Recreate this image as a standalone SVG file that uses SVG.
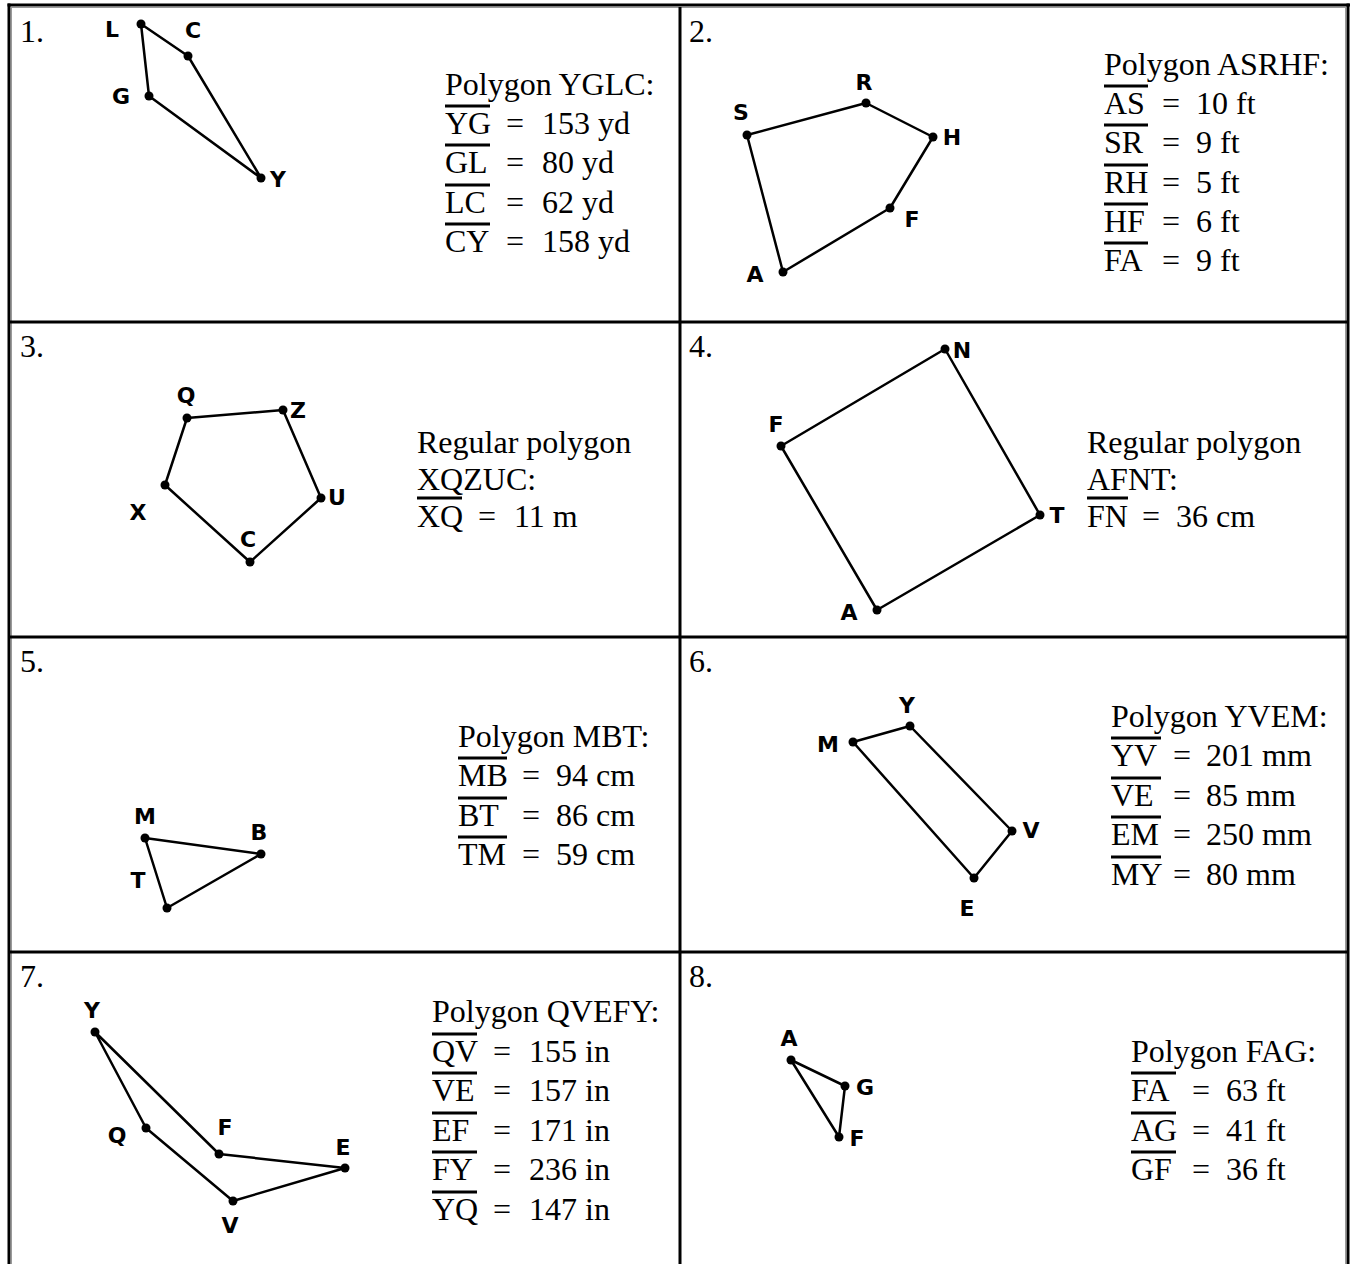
<svg xmlns="http://www.w3.org/2000/svg" width="1353" height="1264" viewBox="0 0 1353 1264">
<defs>
<style>
.t{font-family:"Liberation Serif","Times New Roman",serif;font-size:32px;fill:#000}
.v{font-family:"DejaVu Sans","Liberation Sans",sans-serif;font-weight:bold;font-size:22px;fill:#000;text-anchor:middle}
.p{fill:none;stroke:#000;stroke-width:2.5;stroke-linejoin:round}
.d{fill:#000}
.ob{stroke:#000;stroke-width:3}
.b{stroke:#000;stroke-width:3;fill:none}
.g{stroke:#9a9a9a;stroke-width:1;fill:none}
</style>
</defs>
<rect width="1353" height="1264" fill="#fff"/>
<g id="table">
<line class="b" x1="7.5" y1="5" x2="1350" y2="5"/>
<line class="b" x1="9" y1="3.5" x2="9" y2="1264"/>
<line class="b" x1="1348" y1="3.5" x2="1348" y2="1264"/>
<line class="g" x1="11" y1="7.5" x2="1345" y2="7.5"/>
<line class="g" x1="11.5" y1="7" x2="11.5" y2="1264"/>
<line class="g" x1="1345.5" y1="7" x2="1345.5" y2="1264"/>
<line class="b" x1="680" y1="7" x2="680" y2="1264"/>
<line class="b" x1="10" y1="322" x2="1347" y2="322"/>
<line class="b" x1="10" y1="637" x2="1347" y2="637"/>
<line class="b" x1="10" y1="952" x2="1347" y2="952"/>
</g>
<g id="cell1">
<text class="t" x="20" y="42">1.</text>
<polygon class="p" points="261,178 149,96 141,24 188,56"/>
<g class="d"><circle cx="261" cy="178" r="4.5"/><circle cx="149" cy="96" r="4.5"/><circle cx="141" cy="24" r="4.5"/><circle cx="188" cy="56" r="4.5"/></g>
<text class="v" x="112" y="37">L</text><text class="v" x="193" y="38">C</text><text class="v" x="121" y="104">G</text><text class="v" x="278" y="187">Y</text>
<text class="t" x="445" y="95">Polygon YGLC:</text>
<line class="ob" x1="445" y1="106" x2="490" y2="106"/><text class="t" x="445" y="134">YG</text><text class="t" x="506" y="134">=</text><text class="t" x="542" y="134">153 yd</text>
<line class="ob" x1="445" y1="145" x2="490" y2="145"/><text class="t" x="445" y="173">GL</text><text class="t" x="506" y="173">=</text><text class="t" x="542" y="173">80 yd</text>
<line class="ob" x1="445" y1="185" x2="490" y2="185"/><text class="t" x="445" y="213">LC</text><text class="t" x="506" y="213">=</text><text class="t" x="542" y="213">62 yd</text>
<line class="ob" x1="445" y1="224" x2="490" y2="224"/><text class="t" x="445" y="252">CY</text><text class="t" x="506" y="252">=</text><text class="t" x="542" y="252">158 yd</text>
</g>
<g id="cell2">
<text class="t" x="689" y="42">2.</text>
<polygon class="p" points="783,272 747,135 866,103 933,137 890,208"/>
<g class="d"><circle cx="783" cy="272" r="4.5"/><circle cx="747" cy="135" r="4.5"/><circle cx="866" cy="103" r="4.5"/><circle cx="933" cy="137" r="4.5"/><circle cx="890" cy="208" r="4.5"/></g>
<text class="v" x="741" y="120">S</text><text class="v" x="864" y="90">R</text><text class="v" x="952" y="145">H</text><text class="v" x="912" y="227">F</text><text class="v" x="755" y="282">A</text>
<text class="t" x="1104" y="75">Polygon ASRHF:</text>
<line class="ob" x1="1104" y1="86" x2="1148" y2="86"/><text class="t" x="1104" y="114">AS</text><text class="t" x="1162" y="114">=</text><text class="t" x="1196" y="114">10 ft</text>
<line class="ob" x1="1104" y1="125" x2="1148" y2="125"/><text class="t" x="1104" y="153">SR</text><text class="t" x="1162" y="153">=</text><text class="t" x="1196" y="153">9 ft</text>
<line class="ob" x1="1104" y1="165" x2="1148" y2="165"/><text class="t" x="1104" y="193">RH</text><text class="t" x="1162" y="193">=</text><text class="t" x="1196" y="193">5 ft</text>
<line class="ob" x1="1104" y1="204" x2="1148" y2="204"/><text class="t" x="1104" y="232">HF</text><text class="t" x="1162" y="232">=</text><text class="t" x="1196" y="232">6 ft</text>
<line class="ob" x1="1104" y1="243" x2="1148" y2="243"/><text class="t" x="1104" y="271">FA</text><text class="t" x="1162" y="271">=</text><text class="t" x="1196" y="271">9 ft</text>
</g>
<g id="cell3">
<text class="t" x="20" y="357">3.</text>
<polygon class="p" points="165,485 187,418 283,410 321,498 250,562"/>
<g class="d"><circle cx="165" cy="485" r="4.5"/><circle cx="187" cy="418" r="4.5"/><circle cx="283" cy="410" r="4.5"/><circle cx="321" cy="498" r="4.5"/><circle cx="250" cy="562" r="4.5"/></g>
<text class="v" x="186" y="403">Q</text><text class="v" x="298" y="418">Z</text><text class="v" x="337" y="505">U</text><text class="v" x="248" y="547">C</text><text class="v" x="138" y="520">X</text>
<text class="t" x="417" y="453">Regular polygon</text>
<text class="t" x="417" y="490">XQZUC:</text>
<line class="ob" x1="417" y1="498" x2="462" y2="498"/><text class="t" x="417" y="527">XQ</text><text class="t" x="478" y="527">=</text><text class="t" x="514" y="527">11 m</text>
</g>
<g id="cell4">
<text class="t" x="689" y="357">4.</text>
<polygon class="p" points="877,610 781,446 945,349 1040,515"/>
<g class="d"><circle cx="877" cy="610" r="4.5"/><circle cx="781" cy="446" r="4.5"/><circle cx="945" cy="349" r="4.5"/><circle cx="1040" cy="515" r="4.5"/></g>
<text class="v" x="962" y="358">N</text><text class="v" x="1057" y="523">T</text><text class="v" x="849" y="620">A</text><text class="v" x="776" y="432">F</text>
<text class="t" x="1087" y="453">Regular polygon</text>
<text class="t" x="1087" y="490">AFNT:</text>
<line class="ob" x1="1087" y1="498" x2="1128" y2="498"/><text class="t" x="1087" y="527">FN</text><text class="t" x="1142" y="527">=</text><text class="t" x="1176" y="527">36 cm</text>
</g>
<g id="cell5">
<text class="t" x="20" y="672">5.</text>
<polygon class="p" points="145,838 261,854 167,908"/>
<g class="d"><circle cx="145" cy="838" r="4.5"/><circle cx="261" cy="854" r="4.5"/><circle cx="167" cy="908" r="4.5"/></g>
<text class="v" x="145" y="824">M</text><text class="v" x="259" y="840">B</text><text class="v" x="138" y="888">T</text>
<text class="t" x="458" y="747">Polygon MBT:</text>
<line class="ob" x1="458" y1="758" x2="507" y2="758"/><text class="t" x="458" y="786">MB</text><text class="t" x="522" y="786">=</text><text class="t" x="556" y="786">94 cm</text>
<line class="ob" x1="458" y1="798" x2="507" y2="798"/><text class="t" x="458" y="826">BT</text><text class="t" x="522" y="826">=</text><text class="t" x="556" y="826">86 cm</text>
<line class="ob" x1="458" y1="837" x2="507" y2="837"/><text class="t" x="458" y="865">TM</text><text class="t" x="522" y="865">=</text><text class="t" x="556" y="865">59 cm</text>
</g>
<g id="cell6">
<text class="t" x="689" y="672">6.</text>
<polygon class="p" points="910,726 1012,831 974,878 853,742"/>
<g class="d"><circle cx="910" cy="726" r="4.5"/><circle cx="1012" cy="831" r="4.5"/><circle cx="974" cy="878" r="4.5"/><circle cx="853" cy="742" r="4.5"/></g>
<text class="v" x="907" y="713">Y</text><text class="v" x="1031" y="838">V</text><text class="v" x="967" y="916">E</text><text class="v" x="828" y="752">M</text>
<text class="t" x="1111" y="727">Polygon YVEM:</text>
<line class="ob" x1="1111" y1="738" x2="1161" y2="738"/><text class="t" x="1111" y="766">YV</text><text class="t" x="1173" y="766">=</text><text class="t" x="1206" y="766">201 mm</text>
<line class="ob" x1="1111" y1="778" x2="1161" y2="778"/><text class="t" x="1111" y="806">VE</text><text class="t" x="1173" y="806">=</text><text class="t" x="1206" y="806">85 mm</text>
<line class="ob" x1="1111" y1="817" x2="1161" y2="817"/><text class="t" x="1111" y="845">EM</text><text class="t" x="1173" y="845">=</text><text class="t" x="1206" y="845">250 mm</text>
<line class="ob" x1="1111" y1="857" x2="1161" y2="857"/><text class="t" x="1111" y="885">MY</text><text class="t" x="1173" y="885">=</text><text class="t" x="1206" y="885">80 mm</text>
</g>
<g id="cell7">
<text class="t" x="20" y="987">7.</text>
<polygon class="p" points="146,1128 233,1201 345,1168 219,1154 95,1032"/>
<g class="d"><circle cx="146" cy="1128" r="4.5"/><circle cx="233" cy="1201" r="4.5"/><circle cx="345" cy="1168" r="4.5"/><circle cx="219" cy="1154" r="4.5"/><circle cx="95" cy="1032" r="4.5"/></g>
<text class="v" x="92" y="1018">Y</text><text class="v" x="117" y="1143">Q</text><text class="v" x="225" y="1135">F</text><text class="v" x="343" y="1155">E</text><text class="v" x="230" y="1233">V</text>
<text class="t" x="432" y="1022">Polygon QVEFY:</text>
<line class="ob" x1="432" y1="1034" x2="477" y2="1034"/><text class="t" x="432" y="1062">QV</text><text class="t" x="493" y="1062">=</text><text class="t" x="529" y="1062">155 in</text>
<line class="ob" x1="432" y1="1073" x2="477" y2="1073"/><text class="t" x="432" y="1101">VE</text><text class="t" x="493" y="1101">=</text><text class="t" x="529" y="1101">157 in</text>
<line class="ob" x1="432" y1="1113" x2="477" y2="1113"/><text class="t" x="432" y="1141">EF</text><text class="t" x="493" y="1141">=</text><text class="t" x="529" y="1141">171 in</text>
<line class="ob" x1="432" y1="1152" x2="477" y2="1152"/><text class="t" x="432" y="1180">FY</text><text class="t" x="493" y="1180">=</text><text class="t" x="529" y="1180">236 in</text>
<line class="ob" x1="432" y1="1192" x2="477" y2="1192"/><text class="t" x="432" y="1220">YQ</text><text class="t" x="493" y="1220">=</text><text class="t" x="529" y="1220">147 in</text>
</g>
<g id="cell8">
<text class="t" x="689" y="987">8.</text>
<polygon class="p" points="839,1137 791,1060 845,1086"/>
<g class="d"><circle cx="839" cy="1137" r="4.5"/><circle cx="791" cy="1060" r="4.5"/><circle cx="845" cy="1086" r="4.5"/></g>
<text class="v" x="789" y="1046">A</text><text class="v" x="865" y="1095">G</text><text class="v" x="857" y="1146">F</text>
<text class="t" x="1131" y="1062">Polygon FAG:</text>
<line class="ob" x1="1131" y1="1073" x2="1176" y2="1073"/><text class="t" x="1131" y="1101">FA</text><text class="t" x="1192" y="1101">=</text><text class="t" x="1226" y="1101">63 ft</text>
<line class="ob" x1="1131" y1="1113" x2="1176" y2="1113"/><text class="t" x="1131" y="1141">AG</text><text class="t" x="1192" y="1141">=</text><text class="t" x="1226" y="1141">41 ft</text>
<line class="ob" x1="1131" y1="1152" x2="1176" y2="1152"/><text class="t" x="1131" y="1180">GF</text><text class="t" x="1192" y="1180">=</text><text class="t" x="1226" y="1180">36 ft</text>
</g>
</svg>
